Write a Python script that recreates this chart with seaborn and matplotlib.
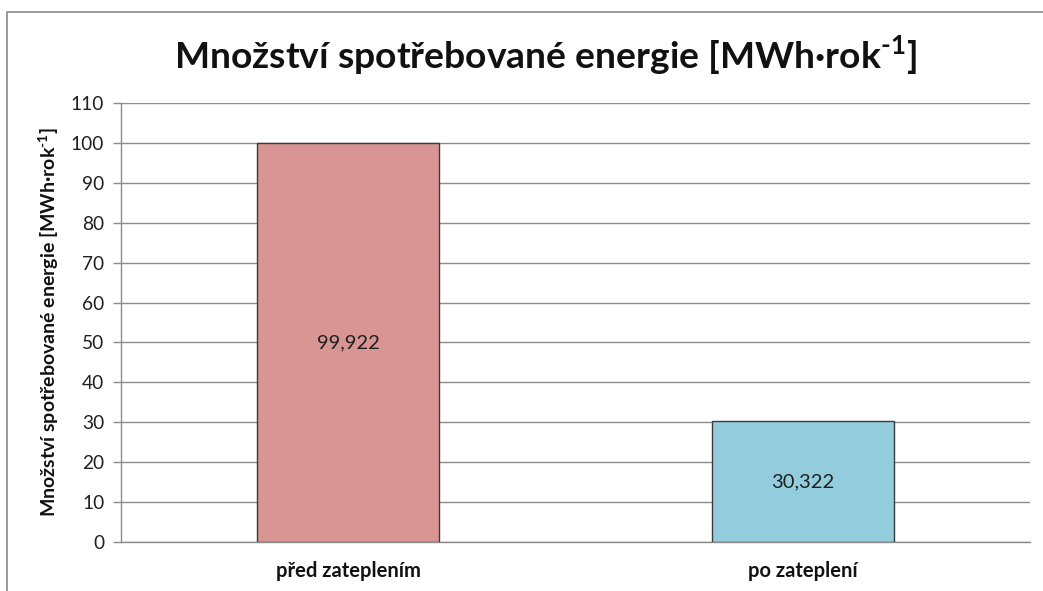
import matplotlib
matplotlib.use("Agg")
import matplotlib.pyplot as plt
import seaborn as sns
import pandas as pd
from matplotlib.patches import Rectangle

categories = ["před zateplením", "po zateplení"]
values = [99.922, 30.322]
colors = ["#D99594", "#93CDDD"]
yticks = [0, 10, 20, 30, 40, 50, 60, 70, 80, 90, 100, 110]

sns.set_theme(style="white")
plt.rcParams["font.family"] = ["Lato", "DejaVu Sans"]
plt.rcParams["mathtext.fontset"] = "custom"
plt.rcParams["mathtext.rm"] = "Lato:bold"
plt.rcParams["mathtext.bf"] = "Lato:bold"

df = pd.DataFrame({"cat": categories, "val": values})

fig = plt.figure(figsize=(10.43, 5.91), dpi=100)
ax = fig.add_axes([0.116, 0.0829, 0.8715, 0.7428])

sns.barplot(data=df, x="cat", y="val", hue="cat", palette=colors, width=0.4,
            saturation=1, edgecolor="#3a3a3a", linewidth=1.0, legend=False,
            ax=ax, zorder=3)

ax.set_ylim(0, 110)
ax.set_xlim(-0.5, 1.5)
ax.set_yticks(yticks)
ax.set_yticklabels([str(t) for t in yticks], fontsize=13.8, color="#202020")
ax.yaxis.grid(True, color="#8c8c8c", linewidth=1.0, zorder=0)
ax.set_axisbelow(True)

ax.set_xticks([0, 1])
ax.set_xticklabels(categories, fontsize=14.5, fontweight="bold", color="#111111")
ax.set_xticks([-0.5, 0.5, 1.5], minor=True)
ax.tick_params(axis="x", which="major", length=0, pad=14)
ax.tick_params(axis="x", which="minor", length=6, color="#8c8c8c", width=1.0)
ax.tick_params(axis="y", which="major", length=6, color="#8c8c8c", width=1.0, left=True, pad=6)

for s in ["top", "right"]:
    ax.spines[s].set_visible(False)
for s in ["left", "bottom"]:
    ax.spines[s].set_color("#8c8c8c")
    ax.spines[s].set_linewidth(1.0)

ax.set_xlabel("")
ax.set_ylabel(r"Množství spotřebované energie [MWh·rok$^{\text{-1}}$]", fontsize=14,
              fontweight="bold", color="#111111", labelpad=7)

for cont in ax.containers:
    labs = [f"{v:.3f}".replace(".", ",") for v in cont.datavalues]
    ax.bar_label(cont, labels=labs, label_type="center", fontsize=14.5, color="#202020")

fig.text(0.523, 0.905, r"Množství spotřebované energie [MWh·rok$^{\text{-1}}$]",
         ha="center", va="center", fontsize=26.8, fontweight="bold", color="#111111")

frame = Rectangle((0.0065, -0.05), 1.1, 1.03, transform=fig.transFigure,
                  fill=False, edgecolor="#8a8a8a", linewidth=1.2)
fig.patches.append(frame)

fig.savefig("out.png", dpi=100)
